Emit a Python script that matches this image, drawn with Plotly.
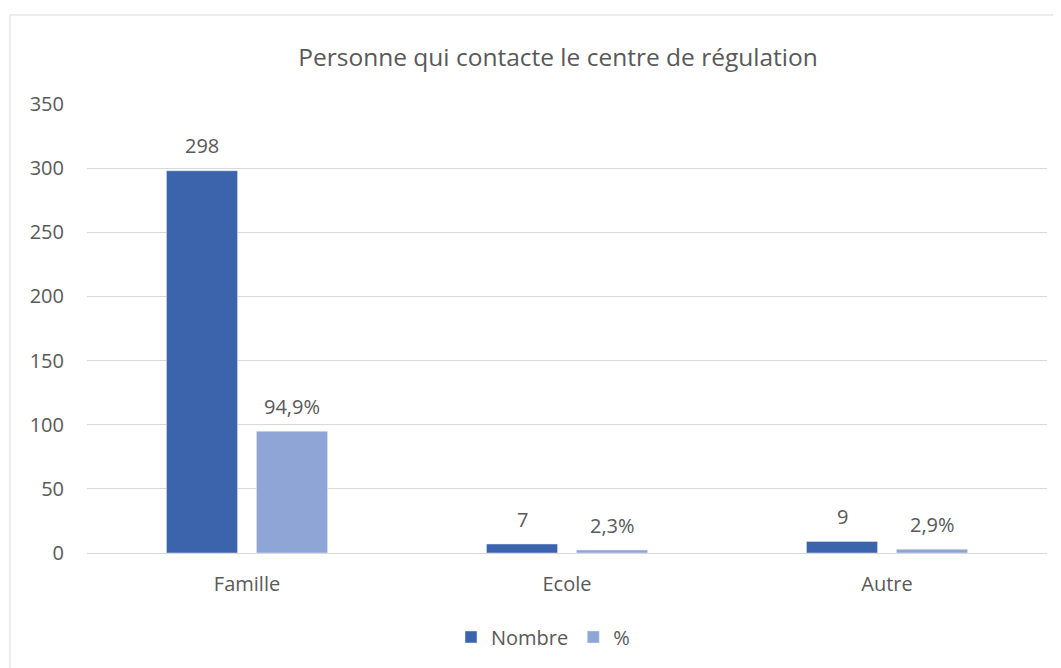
import plotly.graph_objects as go

# Chart data
categories = ['Famille', 'Ecole', 'Autre']
nombre = [298, 7, 9]
pourcent = [94.9, 2.3, 2.9]
pourcent_labels = ['94,9%', '2,3%', '2,9%']

COLORS = {
    'nombre': '#3C64AD',
    'pourcent': '#8FA5D5',
    'text': '#595959',
    'grid': '#D9D9D9',
}

FONT = 'Open Sans'

fig = go.Figure()

fig.add_trace(go.Bar(
    x=categories,
    y=nombre,
    name='Nombre',
    marker=dict(color=COLORS['nombre']),
))

fig.add_trace(go.Bar(
    x=categories,
    y=pourcent,
    name='%',
    marker=dict(color=COLORS['pourcent']),
))

# Data labels sitting above each bar (offset to the left/right bar of the group)
for cat, v in zip(categories, nombre):
    fig.add_annotation(x=cat, y=v, text=str(v), showarrow=False,
                       xshift=-45, yshift=25, yanchor='middle',
                       font=dict(size=20, color=COLORS['text'], family=FONT))
for cat, v, lab in zip(categories, pourcent, pourcent_labels):
    fig.add_annotation(x=cat, y=v, text=lab, showarrow=False,
                       xshift=45, yshift=25, yanchor='middle',
                       font=dict(size=20, color=COLORS['text'], family=FONT))

# Outer chart frame
fig.add_shape(
    type='rect', xref='paper', yref='paper',
    x0=(10 - 87) / 960, x1=(1059 - 87) / 960,
    y0=-0.27, y1=(553 - 15) / 449,
    line=dict(color='#D9D9D9', width=1),
    layer='below',
)

fig.update_layout(
    width=1053,
    height=660,
    margin=dict(l=79, r=14, t=96, b=115),
    paper_bgcolor='white',
    plot_bgcolor='white',
    font=dict(family=FONT, color=COLORS['text'], size=20),
    title=dict(
        text='Personne qui contacte le centre de régulation',
        xref='paper',
        x=(558 - 87) / 960, xanchor='center',
        y=1 - 49 / 660, yanchor='middle',
        font=dict(size=24.5, color=COLORS['text'], family=FONT),
    ),
    barmode='group',
    bargap=0.4375,
    bargroupgap=0.21,
    showlegend=True,
    legend=dict(
        orientation='h',
        x=0.475, xanchor='center',
        y=-0.187, yanchor='middle',
        font=dict(size=20, color=COLORS['text'], family=FONT),
        itemwidth=30,
    ),
    xaxis=dict(
        showgrid=False,
        showline=True,
        linecolor=COLORS['grid'],
        ticks='',
        ticklabelstandoff=13,
        tickfont=dict(size=20, color=COLORS['text']),
    ),
    yaxis=dict(
        range=[0, 350],
        dtick=50,
        showgrid=True,
        gridcolor=COLORS['grid'],
        zeroline=False,
        ticks='',
        ticklabelstandoff=22,
        tickfont=dict(size=20, color=COLORS['text']),
    ),
)

fig.write_html('out.html')
